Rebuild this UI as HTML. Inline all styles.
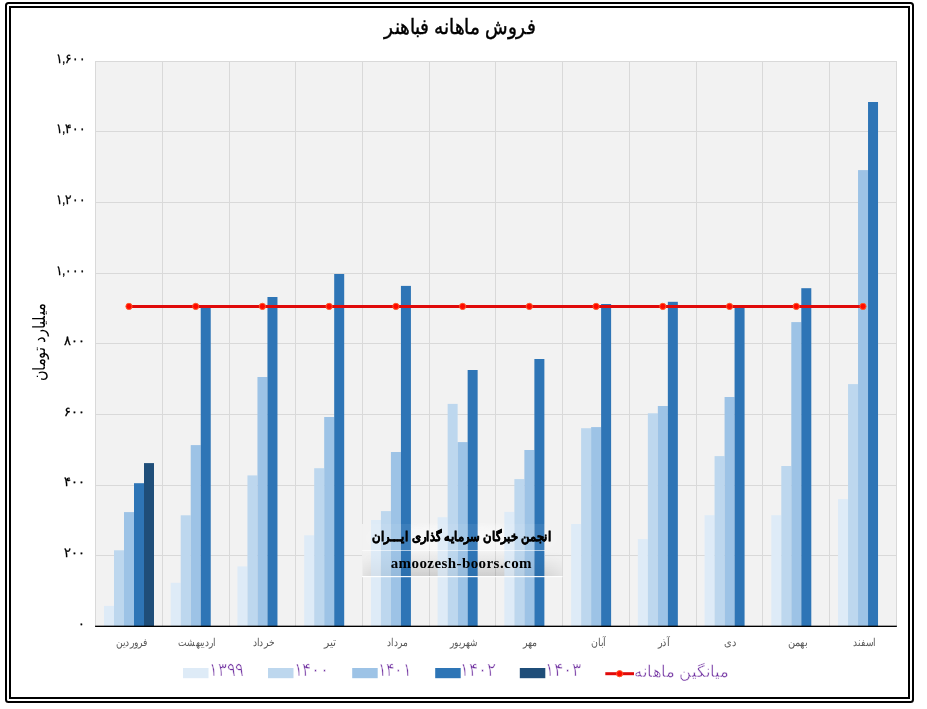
<!DOCTYPE html>
<html lang="fa"><head><meta charset="utf-8"><title>فروش ماهانه فباهنر</title>
<style>
html,body{margin:0;padding:0;background:#fff;}
body{width:927px;height:709px;overflow:hidden;position:relative;font-family:"Liberation Sans",sans-serif;}
svg{position:absolute;left:0;top:0;display:block;will-change:transform;}
text{font-family:"Liberation Sans",sans-serif;}
.title{font-size:21px;fill:#000;stroke:#000;stroke-width:0.45px;}
.ytick{font-size:12.9px;fill:#000;stroke:#000;stroke-width:0.3px;}
.ytitle{font-size:17px;fill:#000;}
.xlab{font-size:10.5px;fill:#595959;}
.leg{font-size:18.6px;fill:#7030A0;stroke:#fff;stroke-width:0.55px;}
.legt{font-size:15.5px;fill:#7030A0;stroke:#fff;stroke-width:0.4px;}
.wm1{font-size:13.4px;font-weight:bold;fill:#000;stroke:#000;stroke-width:0.5px;}
.wm2{font-family:"Liberation Serif",serif;font-size:15px;font-weight:bold;fill:#000;}
</style></head><body>
<svg width="927" height="709" viewBox="0 0 927 709">
<defs><radialGradient id="wmGlow" cx="0.5" cy="0.55" r="0.6"><stop offset="0" stop-color="#fff" stop-opacity="0.6"/><stop offset="0.7" stop-color="#fff" stop-opacity="0.35"/><stop offset="1" stop-color="#fff" stop-opacity="0.05"/></radialGradient><linearGradient id="wmShade" x1="0" y1="0" x2="0" y2="1"><stop offset="0" stop-color="#000" stop-opacity="0"/><stop offset="0.35" stop-color="#000" stop-opacity="0.03"/><stop offset="1" stop-color="#000" stop-opacity="0.11"/></linearGradient><linearGradient id="wmFade" x1="0" y1="0" x2="1" y2="0"><stop offset="0" stop-color="#fff" stop-opacity="0.15"/><stop offset="0.12" stop-color="#fff" stop-opacity="1"/><stop offset="0.85" stop-color="#fff" stop-opacity="1"/><stop offset="1" stop-color="#fff" stop-opacity="0.1"/></linearGradient><mask id="wmMask" maskUnits="userSpaceOnUse" x="362" y="520" width="201" height="60"><rect x="362" y="520" width="201" height="60" fill="url(#wmFade)"/></mask></defs>
<rect x="0" y="0" width="927" height="709" fill="#fff"/>
<rect x="6" y="3" width="907" height="699" rx="2.5" ry="2.5" fill="none" stroke="#000" stroke-width="2"/>
<rect x="10" y="7" width="899" height="691" fill="none" stroke="#000" stroke-width="2"/>
<rect x="95.1" y="61" width="801.76" height="564.7" fill="#F2F2F2"/>
<g fill="#D9D9D9" shape-rendering="crispEdges"><rect x="95.1" y="61" width="801.76" height="1"/><rect x="95.1" y="131" width="801.76" height="1"/><rect x="95.1" y="202" width="801.76" height="1"/><rect x="95.1" y="273" width="801.76" height="1"/><rect x="95.1" y="343" width="801.76" height="1"/><rect x="95.1" y="414" width="801.76" height="1"/><rect x="95.1" y="485" width="801.76" height="1"/><rect x="95.1" y="555" width="267.4" height="1"/><rect x="545" y="555" width="351.86" height="1"/><rect x="95" y="61" width="1" height="564.7"/><rect x="162" y="61" width="1" height="564.7"/><rect x="229" y="61" width="1" height="564.7"/><rect x="295" y="61" width="1" height="564.7"/><rect x="362" y="61" width="1" height="564.7"/><rect x="429" y="61" width="1" height="564.7"/><rect x="495" y="61" width="1" height="564.7"/><rect x="562" y="61" width="1" height="564.7"/><rect x="629" y="61" width="1" height="564.7"/><rect x="696" y="61" width="1" height="564.7"/><rect x="762" y="61" width="1" height="564.7"/><rect x="829" y="61" width="1" height="564.7"/><rect x="896" y="61" width="1" height="564.7"/></g>
<g mask="url(#wmMask)"><rect x="362" y="523" width="200" height="28" fill="url(#wmGlow)"/><rect x="362" y="551" width="200" height="26" fill="url(#wmShade)"/></g>
<g fill="#DEEBF7"><rect x="104" y="605.9" width="10" height="20.3"/><rect x="170.73" y="582.8" width="10" height="43.4"/><rect x="237.46" y="566.4" width="10" height="59.8"/><rect x="304.19" y="535.3" width="10" height="90.9"/><rect x="370.92" y="520" width="10" height="106.2"/><rect x="437.65" y="517.2" width="10" height="109"/><rect x="504.38" y="511.9" width="10" height="114.3"/><rect x="571.11" y="524" width="10" height="102.2"/><rect x="637.84" y="539.1" width="10" height="87.1"/><rect x="704.57" y="515.2" width="10" height="111"/><rect x="771.3" y="515.2" width="10" height="111"/><rect x="838.03" y="499.1" width="10" height="127.1"/></g>
<g fill="#BDD7EE"><rect x="114" y="550.3" width="10" height="75.9"/><rect x="180.73" y="515.3" width="10" height="110.9"/><rect x="247.46" y="475.4" width="10" height="150.8"/><rect x="314.19" y="468.2" width="10" height="158"/><rect x="380.92" y="511.1" width="10" height="115.1"/><rect x="447.65" y="403.9" width="10" height="222.3"/><rect x="514.38" y="479.1" width="10" height="147.1"/><rect x="581.11" y="428.2" width="10" height="198"/><rect x="647.84" y="413.3" width="10" height="212.9"/><rect x="714.57" y="456.1" width="10" height="170.1"/><rect x="781.3" y="466" width="10" height="160.2"/><rect x="848.03" y="384.1" width="10" height="242.1"/></g>
<g fill="#9DC3E6"><rect x="124" y="512.1" width="10" height="114.1"/><rect x="190.73" y="445.1" width="10" height="181.1"/><rect x="257.46" y="377" width="10" height="249.2"/><rect x="324.19" y="417" width="10" height="209.2"/><rect x="390.92" y="452" width="10" height="174.2"/><rect x="457.65" y="442.1" width="10" height="184.1"/><rect x="524.38" y="450" width="10" height="176.2"/><rect x="591.11" y="427.1" width="10" height="199.1"/><rect x="657.84" y="406" width="10" height="220.2"/><rect x="724.57" y="397" width="10" height="229.2"/><rect x="791.3" y="322.1" width="10" height="304.1"/><rect x="858.03" y="170.1" width="10" height="456.1"/></g>
<g fill="#2E75B6"><rect x="134" y="483.2" width="10" height="143"/><rect x="200.73" y="306.5" width="10" height="319.7"/><rect x="267.46" y="297" width="10" height="329.2"/><rect x="334.19" y="274" width="10" height="352.2"/><rect x="400.92" y="285.9" width="10" height="340.3"/><rect x="467.65" y="370" width="10" height="256.2"/><rect x="534.38" y="359" width="10" height="267.2"/><rect x="601.11" y="304" width="10" height="322.2"/><rect x="667.84" y="301.8" width="10" height="324.4"/><rect x="734.57" y="306.5" width="10" height="319.7"/><rect x="801.3" y="288.2" width="10" height="338"/><rect x="868.03" y="102" width="10" height="524.2"/></g>
<g fill="#1F4E79"><rect x="144" y="463.1" width="10" height="163.1"/></g>
<rect x="95.1" y="625.65" width="801.76" height="1.35" fill="#000"/>
<g><rect x="362" y="524" width="200" height="26.5" fill="#fff" opacity="0.07"/><rect x="362" y="551" width="200" height="26" fill="url(#wmShade)" opacity="0.45"/><rect x="362" y="524" width="1" height="53" fill="#fff" opacity="0.6"/><rect x="362" y="550" width="183" height="1" fill="#fff" opacity="0.6"/><rect x="362" y="576" width="200.5" height="1.2" fill="#fff" opacity="0.95"/></g>
<line x1="128.97" y1="306.4" x2="863" y2="306.4" stroke="#E00A0A" stroke-width="3"/>
<g fill="#FF0A00" stroke="#FF5A2A" stroke-width="1"><circle cx="128.97" cy="306.4" r="3.1"/><circle cx="195.69" cy="306.4" r="3.1"/><circle cx="262.43" cy="306.4" r="3.1"/><circle cx="329.15" cy="306.4" r="3.1"/><circle cx="395.88" cy="306.4" r="3.1"/><circle cx="462.62" cy="306.4" r="3.1"/><circle cx="529.35" cy="306.4" r="3.1"/><circle cx="596.08" cy="306.4" r="3.1"/><circle cx="662.81" cy="306.4" r="3.1"/><circle cx="729.54" cy="306.4" r="3.1"/><circle cx="796.27" cy="306.4" r="3.1"/><circle cx="863" cy="306.4" r="3.1"/></g>
<text class="title" x="460" y="33.8" text-anchor="middle" textLength="151.6" lengthAdjust="spacingAndGlyphs">فروش ماهانه فباهنر</text>
<text class="ytick" x="85.1" y="62.8" text-anchor="end" textLength="29.6" lengthAdjust="spacingAndGlyphs">۱,۶۰۰</text>
<text class="ytick" x="85.1" y="133.39" text-anchor="end" textLength="29.6" lengthAdjust="spacingAndGlyphs">۱,۴۰۰</text>
<text class="ytick" x="85.1" y="203.98" text-anchor="end" textLength="29.6" lengthAdjust="spacingAndGlyphs">۱,۲۰۰</text>
<text class="ytick" x="85.1" y="274.56" text-anchor="end" textLength="29.6" lengthAdjust="spacingAndGlyphs">۱,۰۰۰</text>
<text class="ytick" x="85.1" y="345.15" text-anchor="end" textLength="20.8" lengthAdjust="spacingAndGlyphs">۸۰۰</text>
<text class="ytick" x="85.1" y="415.74" text-anchor="end" textLength="20.8" lengthAdjust="spacingAndGlyphs">۶۰۰</text>
<text class="ytick" x="85.1" y="486.33" text-anchor="end" textLength="20.8" lengthAdjust="spacingAndGlyphs">۴۰۰</text>
<text class="ytick" x="85.1" y="556.91" text-anchor="end" textLength="20.8" lengthAdjust="spacingAndGlyphs">۲۰۰</text>
<text class="ytick" x="85.1" y="627.5" text-anchor="end" textLength="6.8" lengthAdjust="spacingAndGlyphs">۰</text>
<text class="ytitle" transform="translate(44.8,342.2) rotate(-90)" text-anchor="middle" textLength="77.6" lengthAdjust="spacingAndGlyphs">میلیارد تومان</text>
<text class="xlab" x="131.7" y="646" text-anchor="middle" textLength="30.8" lengthAdjust="spacingAndGlyphs">فروردین</text>
<text class="xlab" x="196.9" y="646" text-anchor="middle" textLength="36.9" lengthAdjust="spacingAndGlyphs">اردیبهشت</text>
<text class="xlab" x="263.6" y="646" text-anchor="middle" textLength="21.6" lengthAdjust="spacingAndGlyphs">خرداد</text>
<text class="xlab" x="329.9" y="646" text-anchor="middle" textLength="12" lengthAdjust="spacingAndGlyphs">تیر</text>
<text class="xlab" x="397.3" y="646" text-anchor="middle" textLength="20.4" lengthAdjust="spacingAndGlyphs">مرداد</text>
<text class="xlab" x="463.9" y="646" text-anchor="middle" textLength="27.5" lengthAdjust="spacingAndGlyphs">شهریور</text>
<text class="xlab" x="530.2" y="646" text-anchor="middle" textLength="14.4" lengthAdjust="spacingAndGlyphs">مهر</text>
<text class="xlab" x="598.7" y="646" text-anchor="middle" textLength="14.6" lengthAdjust="spacingAndGlyphs">آبان</text>
<text class="xlab" x="663.5" y="646" text-anchor="middle" textLength="11.4" lengthAdjust="spacingAndGlyphs">آذر</text>
<text class="xlab" x="730.7" y="646" text-anchor="middle" textLength="12.5" lengthAdjust="spacingAndGlyphs">دی</text>
<text class="xlab" x="797.6" y="646" text-anchor="middle" textLength="19.8" lengthAdjust="spacingAndGlyphs">بهمن</text>
<text class="xlab" x="864.4" y="646" text-anchor="middle" textLength="22.2" lengthAdjust="spacingAndGlyphs">اسفند</text>
<rect x="183" y="668" width="25.5" height="10.2" fill="#DEEBF7"/>
<text class="leg" x="209.3" y="675.5" text-anchor="start" textLength="34.6" lengthAdjust="spacingAndGlyphs">۱۳۹۹</text>
<rect x="268" y="668" width="25.5" height="10.2" fill="#BDD7EE"/>
<text class="leg" x="293.6" y="675.5" text-anchor="start" textLength="35.4" lengthAdjust="spacingAndGlyphs">۱۴۰۰</text>
<rect x="352.2" y="668" width="25.5" height="10.2" fill="#9DC3E6"/>
<text class="leg" x="377.6" y="675.5" text-anchor="start" textLength="33.4" lengthAdjust="spacingAndGlyphs">۱۴۰۱</text>
<rect x="435.2" y="668" width="25.5" height="10.2" fill="#2E75B6"/>
<text class="leg" x="460.2" y="675.5" text-anchor="start" textLength="35.4" lengthAdjust="spacingAndGlyphs">۱۴۰۲</text>
<rect x="519.8" y="668" width="25.5" height="10.2" fill="#1F4E79"/>
<text class="leg" x="545" y="675.5" text-anchor="start" textLength="36.4" lengthAdjust="spacingAndGlyphs">۱۴۰۳</text>
<line x1="605.3" y1="673.7" x2="634" y2="673.7" stroke="#E00A0A" stroke-width="3"/>
<circle cx="619.6" cy="673.7" r="3.1" fill="#FF0A00" stroke="#FF5A2A" stroke-width="1"/>
<text class="legt" x="634.2" y="677.3" text-anchor="start" textLength="95.2" lengthAdjust="spacingAndGlyphs">میانگین ماهانه</text>
<text class="wm1" x="461.75" y="540.5" text-anchor="middle" textLength="179.6" lengthAdjust="spacingAndGlyphs">انجمن خبرگان سرمایه گذاری ایـــران</text>
<text class="wm2" x="461.1" y="567.9" text-anchor="middle" textLength="140.9" lengthAdjust="spacing">amoozesh-boors.com</text>
</svg>
</body></html>
